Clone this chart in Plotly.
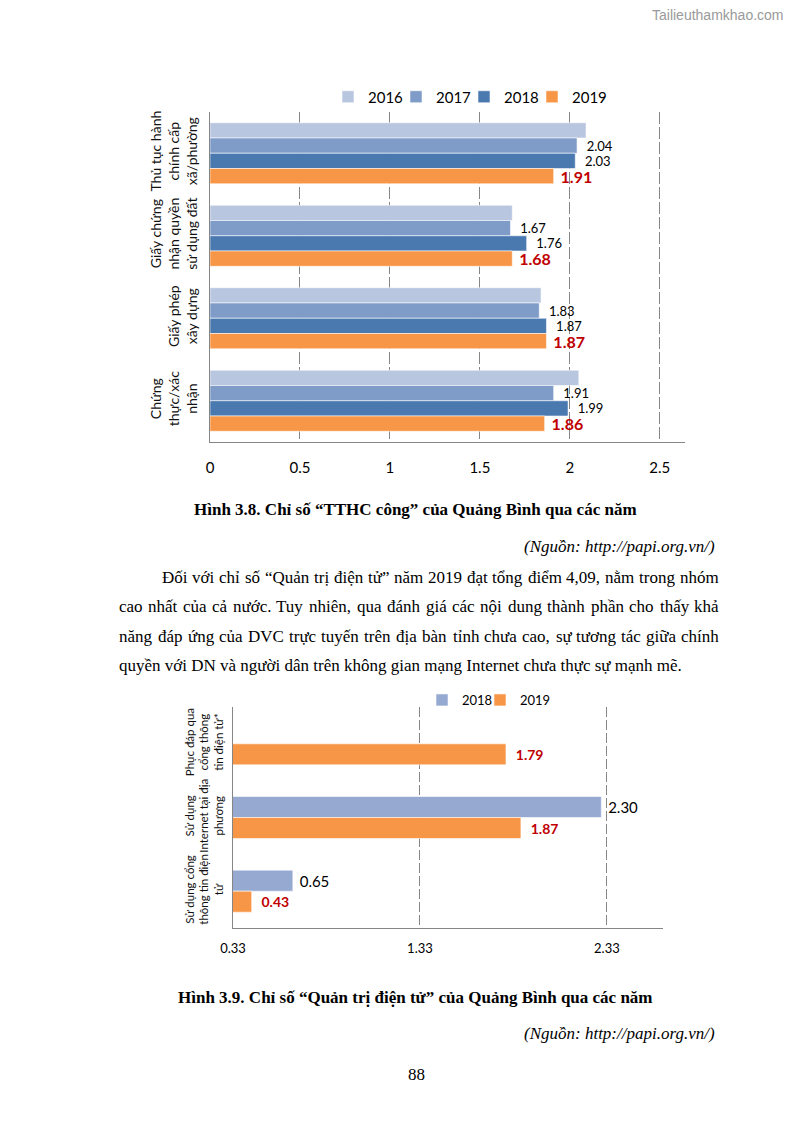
import unicodedata
import plotly.graph_objects as go

# page (browser window) size and the 8px default body margin of the page
PAGE_W, PAGE_H = 794, 1123
BM = 8
W, H = PAGE_W - 2 * BM, PAGE_H - 2 * BM

# ---------------- data: chart 1 (Hình 3.8) ----------------
cats1 = ["Thủ tục hành<br>chính cấp<br>xã/phường",
         "Giấy chứng<br>nhận quyền<br>sử dụng đất",
         "Giấy phép<br>xây dựng",
         "Chứng<br>thực/xác<br>nhận"]
years1 = ["2016", "2017", "2018", "2019"]
v2016 = [2.09, 1.68, 1.84, 2.05]
v2017 = [2.04, 1.67, 1.83, 1.91]
v2018 = [2.03, 1.76, 1.87, 1.99]
v2019 = [1.91, 1.68, 1.87, 1.86]
ticks1 = [0, 0.5, 1, 1.5, 2, 2.5]

# ---------------- data: chart 2 (Hình 3.9) ----------------
cats2 = ["Phục đáp qua<br>cổng thông<br>tin điện tử*",
         "Sử dụng<br>Internet tại địa<br>phương",
         "Sử dụng cổng<br>thông tin điện<br>tử"]
years2 = ["2018", "2019"]
e2018 = [None, 2.30, 0.65]
e2019 = [1.79, 1.87, 0.43]
ticks2 = [0.33, 1.33, 2.33]

# ---------------- page text ----------------
caption1 = "Hình 3.8. Chỉ số “TTHC công” của Quảng Bình qua các năm"
caption2 = "Hình 3.9. Chỉ số “Quản trị điện tử” của Quảng Bình qua các năm"
source = "(Nguồn: http://papi.org.vn/)"
para = [
    "Đối với chỉ số “Quản trị điện tử” năm 2019 đạt tổng điểm 4,09, nằm trong nhóm",
    "cao nhất của cả nước. Tuy nhiên, qua đánh giá các nội dung thành phần cho thấy khả",
    "năng đáp ứng của DVC trực tuyến trên địa bàn tỉnh chưa cao, sự tương tác giữa chính",
    "quyền với DN và người dân trên không gian mạng Internet chưa thực sự mạnh mẽ.",
]
page_no = "88"
watermark = "Tailieuthamkhao.com"

# ---------------- styles ----------------
colors1 = ["#B9C6E0", "#7F9CC9", "#4A79B0", "#F79646"]
colors2 = ["#95A9D1", "#F79646"]
RED = "#C00000"
GRID = "#868686"
CF = "Lato"
SERIF = "Liberation Serif"
FS = 17


def px(x):
    """screen pixel x -> paper fraction"""
    return (x - BM) / W


def py(y):
    """screen pixel y -> paper fraction"""
    return 1 - (y - BM) / H


fig = go.Figure()

series1 = [v2016, v2017, v2018, v2019]
for i, (yr, vals) in enumerate(zip(years1, series1)):
    if i == 0:
        tp, tt, tf = "none", None, None
    elif i < 3:
        tp, tt, tf = "outside", "\u00a0\u00a0%{x:.2f}", dict(family=CF, size=13, color="#000000")
    else:
        tp, tt, tf = "outside", "\u00a0%{x:.2f}", dict(family=CF, size=16, color=RED, weight="bold")
    fig.add_trace(go.Bar(
        y=cats1, x=vals, name=yr, orientation="h",
        marker=dict(color=colors1[i], line=dict(color="rgba(255,255,255,0.7)", width=0.8)),
        textposition=tp, texttemplate=tt, textfont=tf,
        constraintext="none", cliponaxis=False,
        legendwidth=45 if i == 3 else None,
        xaxis="x", yaxis="y", legend="legend", hoverinfo="skip",
    ))

series2 = [e2018, e2019]
bw = 0.285
for i, (yr, vals) in enumerate(zip(years2, series2)):
    if i == 0:
        tt, tf = "\u00a0%{x:.2f}", dict(family=CF, size=15, color="#000000")
    else:
        tt, tf = "\u00a0\u00a0%{x:.2f}", dict(family=CF, size=14, color=RED, weight="bold")
    fig.add_trace(go.Bar(
        y=cats2, x=vals, name=yr, orientation="h",
        width=bw, offset=-bw + i * bw,
        marker=dict(color=colors2[i], line=dict(color="rgba(255,255,255,0.7)", width=0.8)),
        textposition="outside", texttemplate=tt, textfont=tf,
        constraintext="none", cliponaxis=False,
        legendwidth=40 if i == 1 else None,
        xaxis="x2", yaxis="y2", legend="legend2", hoverinfo="skip",
    ))

axis_common = dict(showgrid=True, gridcolor=GRID, gridwidth=1,
                   zeroline=False, showline=True, linecolor=GRID, linewidth=1,
                   ticks="outside", tickcolor="rgba(0,0,0,0)", automargin=False)

yaxis_common = dict(autorange="reversed", showgrid=False, showline=True, linecolor=GRID,
                    zeroline=False, ticks="outside", tickcolor="rgba(0,0,0,0)",
                    tickangle=-90, automargin=False)

fig.update_layout(
    width=W, height=H,
    autosize=False,
    margin=dict(l=0, r=0, t=0, b=0, pad=0, autoexpand=False),
    paper_bgcolor="white", plot_bgcolor="white",
    barmode="group", bargap=0.26, bargroupgap=0,
    showlegend=True,
    xaxis=dict(domain=[px(210), px(685)], range=[0, 2.64], tickvals=ticks1,
               anchor="y", ticklen=12, griddash="12px,3px",
               tickfont=dict(family=CF, size=15, color="#000"), **axis_common),
    yaxis=dict(domain=[py(442), py(112)], anchor="x", ticklen=6,
               tickfont=dict(family=CF, size=14, color="#111"), **yaxis_common),
    xaxis2=dict(domain=[px(233), px(663)], range=[0.33, 2.63], tickvals=ticks2,
                ticktext=["0.33", "1.33", "2.33"], griddash="10px,3px",
                anchor="y2", ticklen=8,
                tickfont=dict(family=CF, size=13, color="#000"), **axis_common),
    yaxis2=dict(domain=[py(928), py(707)], anchor="x2", ticklen=4,
                tickfont=dict(family=CF, size=11.5, color="#111"), **yaxis_common),
    legend=dict(orientation="h", x=px(328), y=py(97), xanchor="left", yanchor="middle",
                font=dict(family=CF, size=15, color="#000"), itemwidth=30,
                entrywidth=23, entrywidthmode="pixels",
                bgcolor="rgba(0,0,0,0)", traceorder="normal"),
    legend2=dict(orientation="h", x=px(422), y=py(700), xanchor="left", yanchor="middle",
                 font=dict(family=CF, size=13, color="#000"), itemwidth=30,
                 entrywidth=13, entrywidthmode="pixels",
                 bgcolor="rgba(0,0,0,0)", traceorder="normal"),
)


def ann(x, y, anc, t, f):
    fig.add_annotation(x=px(x), y=py(y), xref="paper", yref="paper", xanchor=anc,
                       yanchor="middle", text=t, showarrow=False, font=f)


body = dict(family=SERIF, size=FS, color="#000")

# Times-compatible advance widths (per 1000 em) used to justify the paragraph lines
TW = dict(zip("abcdefghijklmnopqrstuvwxyz",
              [444, 500, 444, 500, 444, 333, 500, 500, 278, 278, 500, 278, 778,
               500, 500, 500, 500, 333, 389, 278, 500, 500, 722, 500, 500, 444]))
TW.update(zip("ABCDEFGHIJKLMNOPQRSTUVWXYZ",
              [722, 667, 667, 722, 611, 556, 722, 722, 333, 389, 722, 611, 889,
               722, 722, 556, 722, 667, 556, 611, 722, 722, 944, 722, 722, 611]))
TW.update({c: 500 for c in "0123456789"})
TW.update({",": 250, ".": 250, ":": 278, "“": 444, "”": 444, "/": 278, "(": 333,
           ")": 333, "*": 500, "-": 333, "đ": 500, "Đ": 722, "ơ": 510, "ư": 520})


def word_w(word):
    tot = 0
    for ch in word:
        if ch in TW:
            tot += TW[ch]
        else:
            base = unicodedata.normalize("NFD", ch)[0]
            tot += TW.get(base, 500)
    return tot * FS / 1000


def justified(line, x0, x1, y):
    words = line.split(" ")
    ws = [word_w(w) for w in words]
    gap = (x1 - x0 - sum(ws)) / (len(words) - 1)
    x = x0
    for w, wd in zip(words, ws):
        ann(x, y, "left", w, body)
        x += wd + gap


ann(786, 15, "right", watermark, dict(family="Liberation Sans", size=14, color="#9a9a9a"))
ann(415, 509, "center", f"<b>{caption1}</b>", body)
ann(717, 547, "right", f"<i>{source}</i>", body)
justified(para[0], 160, 717, 577)
justified(para[1], 117, 717, 606)
justified(para[2], 117, 717, 636)
ann(117, 665, "left", para[3], body)
ann(415, 997, "center", f"<b>{caption2}</b>", body)
ann(717, 1033, "right", f"<i>{source}</i>", body)
ann(416, 1074, "center", page_no, body)

fig.write_html("out.html")
